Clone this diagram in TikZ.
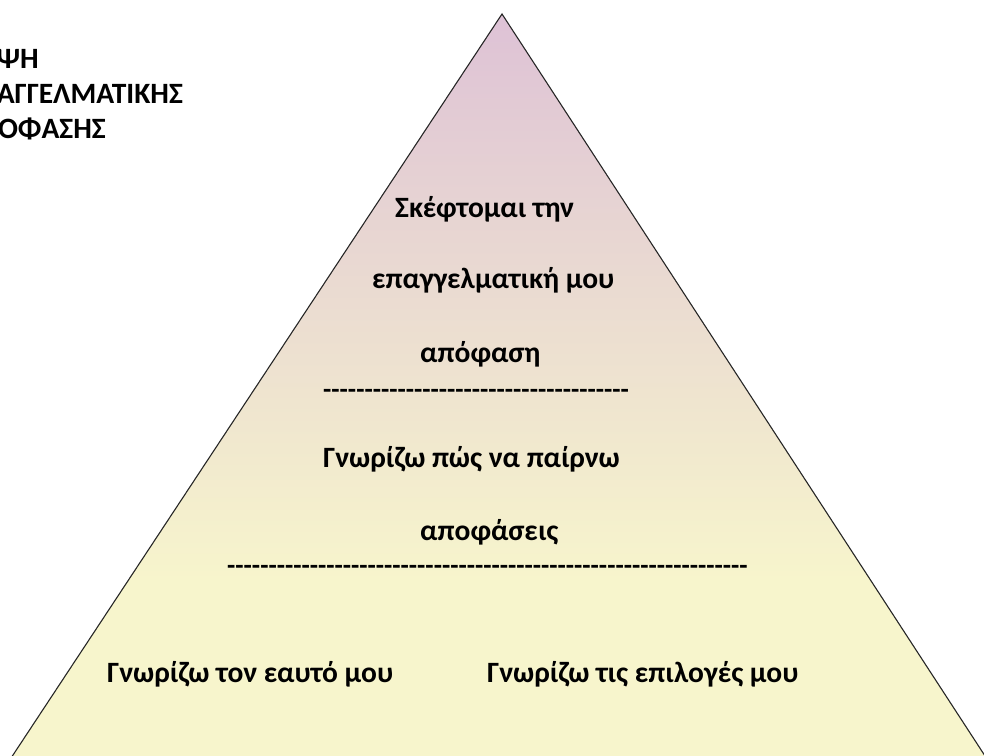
\documentclass[tikz,border=0pt]{standalone}
\usepackage{fontspec}
\setmainfont{Carlito}
\definecolor{pyrtop}{RGB}{222,194,214}
\definecolor{pyrbot}{RGB}{247,245,204}
% vertical fill of the pyramid: pink at the apex, yellow from the lower third down
\pgfdeclareverticalshading{pyramidfill}{100bp}{color(0bp)=(pyrbot); color(39bp)=(pyrbot);
  color(75bp)=(pyrtop); color(100bp)=(pyrtop)}
\newcommand\hyphenrow[1]{\foreach \k in {1,...,#1}{-\kern0pt}}
\begin{document}
\begin{tikzpicture}[x=1pt,y=-1pt,
  lbl/.style={font=\bfseries\fontsize{29.5}{34}\selectfont,anchor=base west,inner sep=0pt},
  ttl/.style={lbl,anchor=base east},
  sep/.style={lbl,font=\bfseries\fontsize{27}{32}\selectfont}]
  \useasboundingbox (0,0) rectangle (984,755);
  \clip (0,0) rectangle (984,755);
  % pyramid
  \coordinate (apex) at (502,14);
  \coordinate (baseL) at (-18,802);
  \coordinate (baseR) at (1015,802);
  \shade[shading=pyramidfill,draw=black!85,line width=1.1pt]
    (apex) -- (baseL) -- (baseR) -- cycle;
  % cut-off title
  \node[ttl] (t1) at (39,68) {ΨΗ};
  \node[ttl] (t2) at (183,103) {ΑΓΓΕΛΜΑΤΙΚΗΣ};
  \node[ttl] (t3) at (106,138) {ΟΦΑΣΗΣ};
  % top level
  \node[lbl] (think1) at (395,217) {Σκέφτομαι την};
  \node[lbl] (think2) at (372,288) {επαγγελματική μου};
  \node[lbl] (think3) at (420,362) {απόφαση};
  \node[sep] (dash1) at (323,398) {\hyphenrow{37}};
  % middle level
  \node[lbl] (decide1) at (323,467) {Γνωρίζω πώς να παίρνω};
  \node[lbl] (decide2) at (420,540) {αποφάσεις};
  \node[sep] (dash2) at (227,574) {\hyphenrow{63}};
  % base level
  \node[lbl] (self) at (107,682) {Γνωρίζω τον εαυτό μου};
  \node[lbl] (options) at (487,682) {Γνωρίζω τις επιλογές μου};
\end{tikzpicture}
\end{document}
